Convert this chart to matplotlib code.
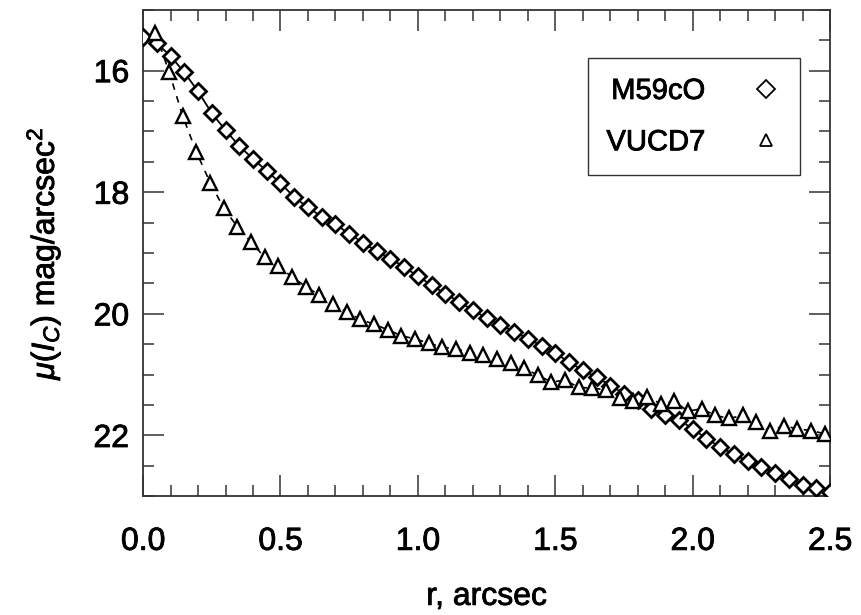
import numpy as np
import matplotlib.pyplot as plt
import matplotlib.patheffects as pe
from matplotlib.ticker import MultipleLocator

# ---------- data ----------
r_m59 = np.arange(0.0, 2.501, 0.05)
mu_m59 = [15.44, 15.55, 15.76, 16.03, 16.34, 16.70, 16.98, 17.24, 17.45, 17.65,
          17.85, 18.08, 18.25, 18.40, 18.53, 18.68, 18.83, 18.97, 19.09, 19.23,
          19.38, 19.53, 19.67, 19.80, 19.94, 20.07, 20.18, 20.29, 20.41, 20.52,
          20.65, 20.79, 20.93, 21.04, 21.18, 21.31, 21.42, 21.56, 21.66, 21.74,
          21.89, 22.05, 22.19, 22.31, 22.42, 22.52, 22.62, 22.71, 22.81, 22.87,
          22.93]

r_vucd7 = np.linspace(0.045, 2.48, 50)
mu_vucd7 = [15.38, 16.02, 16.75, 17.34, 17.84, 18.26, 18.57, 18.82, 19.07, 19.22,
            19.39, 19.55, 19.69, 19.84, 19.97, 20.09, 20.17, 20.26, 20.36, 20.41,
            20.48, 20.55, 20.57, 20.64, 20.67, 20.74, 20.81, 20.89, 21.01, 21.12,
            21.09, 21.21, 21.22, 21.25, 21.39, 21.43, 21.36, 21.48, 21.44, 21.60,
            21.56, 21.67, 21.72, 21.67, 21.77, 21.93, 21.84, 21.89, 21.92, 21.97]

plt.rcParams['font.family'] = ['Liberation Sans', 'DejaVu Sans']
plt.rcParams['mathtext.fontset'] = 'custom'
plt.rcParams['mathtext.it'] = 'Liberation Sans:italic'
plt.rcParams['mathtext.rm'] = 'Liberation Sans'

heavy = [pe.withStroke(linewidth=0.6, foreground='black')]

fig = plt.figure(figsize=(8.62, 6.15), dpi=100)
ax = fig.add_axes([0.166, 0.193, 0.797, 0.791])

# fit lines
ax.plot(r_m59, mu_m59, '-', color='black', lw=1.3, zorder=2)
ax.plot(r_vucd7, mu_vucd7, '--', color='black', lw=1.2, dashes=(4, 4), zorder=2)

# data points
ax.plot(r_m59, mu_m59, 'D', ms=8, mfc='white', mec='black', mew=2.0,
        ls='none', label='M59cO', zorder=3)
ax.plot(r_vucd7, mu_vucd7, '^', ms=10, mfc='white', mec='black', mew=1.7,
        ls='none', label='VUCD7', zorder=3)

ax.set_xlim(0, 2.5)
ax.set_ylim(23, 15)
ax.xaxis.set_major_locator(MultipleLocator(0.5))
ax.xaxis.set_minor_locator(MultipleLocator(0.1))
ax.yaxis.set_major_locator(MultipleLocator(2))
ax.yaxis.set_minor_locator(MultipleLocator(0.5))
ax.xaxis.set_major_formatter(plt.FuncFormatter(lambda v, p: f"{v:.1f}"))
ax.yaxis.set_major_formatter(plt.FuncFormatter(lambda v, p: f"{v:.0f}"))

ax.tick_params(which='both', direction='in', top=True, right=True,
               labelsize=23, width=1.1, color='#333333')
ax.tick_params(which='major', length=15)
ax.tick_params(which='minor', length=8)
ax.tick_params(axis='x', which='major', pad=22)
ax.tick_params(axis='y', which='major', pad=10)
for s in ax.spines.values():
    s.set_linewidth(1.3)
    s.set_color('#333333')
for t in ax.get_xticklabels() + ax.get_yticklabels():
    t.set_path_effects(heavy)

xl = ax.set_xlabel('r, arcsec', fontsize=23, labelpad=18)
yl = ax.set_ylabel(r'$\mu(I_C)$ mag/arcsec$^2$', fontsize=23, labelpad=22)
xl.set_path_effects(heavy)
yl.set_path_effects(heavy)

leg = ax.legend(loc='upper right', bbox_to_anchor=(0.956, 0.901), borderaxespad=0,
                markerfirst=False, fontsize=21, frameon=True, fancybox=False,
                edgecolor='black', handletextpad=1.6, borderpad=0.65,
                labelspacing=0.8, handlelength=1.0)
leg.get_frame().set_linewidth(1.0)
for h in leg.legend_handles:
    h.set_markersize(9)
    h.set_markeredgewidth(1.3)
for t in leg.get_texts():
    t.set_path_effects(heavy)

fig.savefig('out.png', dpi=100)
